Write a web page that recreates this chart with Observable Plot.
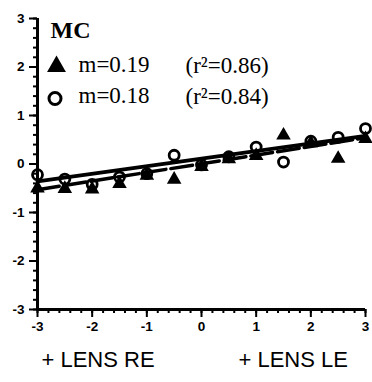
<!DOCTYPE html>
<html><head><meta charset="utf-8">
<script src="https://cdn.jsdelivr.net/npm/d3@7"></script>
<script src="https://cdn.jsdelivr.net/npm/@observablehq/plot@0.6"></script>
<style>
body{margin:0;background:#fff;}
#chart svg{display:block;}
</style></head><body><div id="chart"></div>
<script>
// data
const xValues = [-3, -2.5, -2, -1.5, -1, -0.5, 0, 0.5, 1, 1.5, 2, 2.5, 3];
const triangleValues = [-0.5, -0.51, -0.52, -0.41, -0.24, -0.32, -0.06, 0.1, 0.17, 0.59, 0.43, 0.11, 0.52];
const circleValues = [-0.22, -0.31, -0.42, -0.27, -0.2, 0.18, -0.02, 0.15, 0.35, 0.04, 0.47, 0.55, 0.73];
const lineX = [-3, 3];
const solidLineY = [-0.36, 0.58];   // circles regression (solid)
const dashedLineY = [-0.53, 0.54];  // triangles regression (dashed)
const majorTicks = [-3, -2, -1, 0, 1, 2, 3];
const minorTicks = d3.range(-30, 31, 2).map(d => d / 10);
const legendTitle = "MC";
const legendLabels = ["m=0.19", "m=0.18"];
const legendR2 = ["(r²=0.86)", "(r²=0.84)"];
const bottomLabels = ["+ LENS RE", "+ LENS LE"];

const triData = xValues.map((x, i) => ({x, y: triangleValues[i]}));
const circData = xValues.map((x, i) => ({x, y: circleValues[i]}));
const solidData = lineX.map((x, i) => ({x, y: solidLineY[i]}));
const dashedData = lineX.map((x, i) => ({x, y: dashedLineY[i]}));

const serif = "'Liberation Serif', 'Times New Roman', serif";
const sans = "'Liberation Sans', Arial, sans-serif";

const chart = Plot.plot({
  width: 372,
  height: 382,
  marginLeft: 37,
  marginRight: 7,
  marginTop: 18,
  marginBottom: 73,
  style: {fontFamily: sans, fontSize: "13px", fontWeight: "bold", color: "black", background: "white"},
  x: {domain: [-3, 3], label: null},
  y: {domain: [-3, 3], label: null},
  marks: [
    Plot.axisX({ticks: minorTicks, tickSize: 4, tickFormat: () => "", stroke: "black", strokeWidth: 2, label: null}),
    Plot.axisX({ticks: majorTicks, tickSize: 8, tickPadding: 4, stroke: "black", strokeWidth: 2, label: null, tickFormat: d => String(d), fontWeight: "bold", fontSize: 13.5}),
    Plot.axisY({ticks: minorTicks, tickSize: 4, tickFormat: () => "", stroke: "black", strokeWidth: 2, label: null}),
    Plot.axisY({ticks: majorTicks, tickSize: 8, tickPadding: 5, stroke: "black", strokeWidth: 2, label: null, tickFormat: d => String(d), fontWeight: "bold", fontSize: 13.5}),
    Plot.ruleX([-3], {stroke: "black", strokeWidth: 3}),
    Plot.ruleY([-3], {stroke: "black", strokeWidth: 3}),
    Plot.line(solidData, {x: "x", y: "y", stroke: "black", strokeWidth: 3.8}),
    Plot.line(dashedData, {x: "x", y: "y", stroke: "black", strokeWidth: 3.5, strokeDasharray: "22,5"}),
    Plot.dot(triData, {x: "x", y: "y", symbol: "triangle", r: 5.4, fill: "black", stroke: "none"}),
    Plot.dot(circData, {x: "x", y: "y", symbol: "circle", r: 5, fill: "none", stroke: "black", strokeWidth: 2.8}),
    // legend
    Plot.text([legendTitle], {text: d => d, frameAnchor: "top-left", dx: 13, dy: 19, lineAnchor: "bottom", textAnchor: "start", fontFamily: serif, fontWeight: "bold", fontSize: 24, fill: "black"}),
    Plot.dot([0], {frameAnchor: "top-left", dx: 19, dy: 48, symbol: "triangle", r: 7, fill: "black", stroke: "none"}),
    Plot.dot([0], {frameAnchor: "top-left", dx: 17.5, dy: 80, symbol: "circle", r: 6, fill: "none", stroke: "black", strokeWidth: 3}),
    Plot.text([legendLabels[0]], {text: d => d, frameAnchor: "top-left", dx: 41, dy: 53, lineAnchor: "bottom", textAnchor: "start", fontFamily: serif, fontWeight: "normal", fontSize: 23, fill: "black"}),
    Plot.text([legendLabels[1]], {text: d => d, frameAnchor: "top-left", dx: 41, dy: 84, lineAnchor: "bottom", textAnchor: "start", fontFamily: serif, fontWeight: "normal", fontSize: 23, fill: "black"}),
    Plot.text([legendR2[0]], {text: d => d, frameAnchor: "top-left", dx: 148, dy: 54, lineAnchor: "bottom", textAnchor: "start", fontFamily: serif, fontWeight: "normal", fontSize: 23, fill: "black"}),
    Plot.text([legendR2[1]], {text: d => d, frameAnchor: "top-left", dx: 148, dy: 85, lineAnchor: "bottom", textAnchor: "start", fontFamily: serif, fontWeight: "normal", fontSize: 23, fill: "black"}),
    // bottom labels
    Plot.text([bottomLabels[0]], {text: d => d, frameAnchor: "bottom-left", dx: 4, dy: 57, lineAnchor: "bottom", textAnchor: "start", fontFamily: sans, fontWeight: "normal", fontSize: 22, fill: "black"}),
    Plot.text([bottomLabels[1]], {text: d => d, frameAnchor: "bottom-left", dx: 201, dy: 57, lineAnchor: "bottom", textAnchor: "start", fontFamily: sans, fontWeight: "normal", fontSize: 22, fill: "black"})
  ]
});
document.getElementById("chart").appendChild(chart);
</script></body></html>
